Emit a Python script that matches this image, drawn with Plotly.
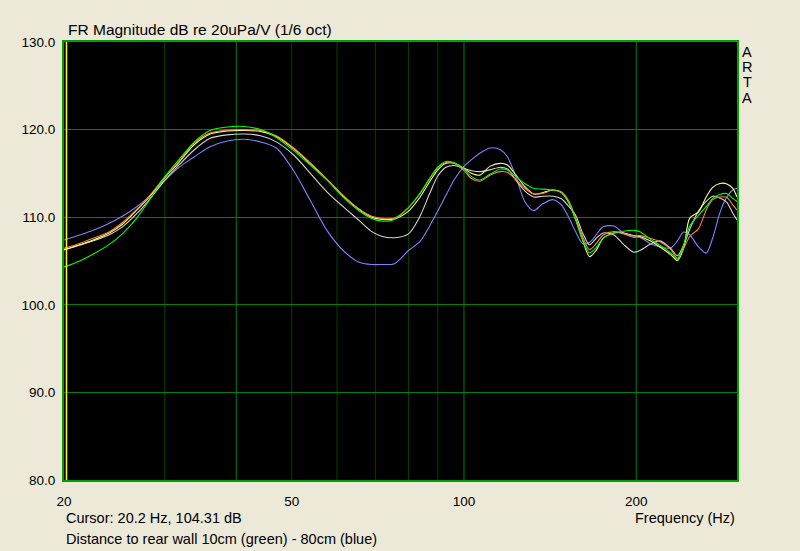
import math
import plotly.graph_objects as go

FREQ = [20, 21.3, 22.5, 24, 25.3, 26.8, 28.1, 30, 31.6, 33.8, 36, 38.6, 41.3, 44.1, 47, 50.4,
        53.9, 57.6, 61.5, 65.4, 69, 72, 75.6, 80, 83.7, 87.1, 90, 93, 96.2, 99.7, 103.2, 106.6,
        111, 115.8, 119.1, 123.3, 127.7, 132.4, 137.1, 143.2, 148, 152.6, 156.8, 161.2, 165.7,
        170.3, 175.1, 182.8, 190, 198, 203, 211.5, 220, 230, 236, 242, 248, 257, 265, 272, 280,
        288, 295, 300]

GREEN_10CM = [104.3, 105.0, 105.8, 106.9, 108.1, 109.9, 111.8, 114.6, 116.4, 118.6, 119.9, 120.3,
              120.35, 120.0, 119.1, 117.6, 115.95, 114.25, 112.3, 110.8, 109.86, 109.55, 109.75,
              111.1, 112.7, 114.4, 115.7, 116.35, 116.2, 115.6, 114.6, 114.25, 114.9, 115.5, 115.4,
              114.6, 113.85, 113.3, 113.2, 113.1, 112.8, 111.6, 109.7, 107.4, 105.95, 106.55,
              107.6, 108.2, 108.4, 108.5, 108.35, 107.5, 106.8, 105.9, 105.2, 106.8, 109.0, 110.2,
              111.2, 112.15, 112.6, 112.7, 112.15, 111.8]

ORANGE = [106.45, 107.0, 107.6, 108.35, 109.4, 110.9, 112.3, 114.6, 116.2, 118.5, 119.6, 119.95,
          120.0, 119.9, 119.3, 117.9, 116.2, 114.35, 112.5, 111.0, 110.1, 109.86, 109.9, 111.1,
          112.65, 114.4, 115.7, 116.25, 116.15, 115.4, 114.4, 114.1, 114.8, 115.2, 115.1, 114.3,
          113.3, 112.65, 112.7, 113.1, 112.9, 111.8, 109.9, 107.8, 106.3, 107.0, 107.97, 108.35,
          108.1, 107.85, 107.9, 107.6, 107.2, 106.3, 105.3, 106.45, 107.8, 108.7, 110.8, 112.0,
          112.3, 112.25, 111.4, 110.8]

YELLOW = [106.3, 106.85, 107.4, 108.2, 109.2, 110.8, 112.2, 114.5, 116.1, 118.3, 119.5, 119.85,
          119.9, 119.8, 119.2, 117.8, 116.1, 114.3, 112.4, 110.9, 110.0, 109.75, 109.8, 110.7,
          112.25, 114.05, 115.4, 116.15, 116.15, 115.6, 115.0, 114.8, 115.8, 116.15, 115.96,
          114.8, 113.5, 112.65, 112.8, 113.1, 112.8, 111.6, 109.7, 107.4, 105.5, 106.25, 107.6,
          108.2, 108.2, 107.9, 107.8, 107.3, 106.6, 105.7, 105.05, 106.45, 109.9, 110.6, 112.3,
          113.4, 113.85, 113.8, 113.3, 112.3]

WHITE = [106.25, 106.8, 107.3, 108.0, 108.9, 110.4, 111.9, 114.2, 115.8, 117.7, 119.0, 119.4,
         119.5, 119.3, 118.6, 117.1, 115.0, 112.9, 111.2, 109.7, 108.35, 107.8, 107.66, 108.1,
         110.05, 112.7, 114.7, 115.7, 115.9, 115.6, 115.3, 115.2, 115.4, 115.7, 115.5, 114.2,
         113.0, 112.3, 112.4, 112.4, 112.1, 111.2, 110.2, 108.2, 106.85, 107.6, 108.2, 107.97,
         106.9, 106.0, 106.2, 106.9, 107.3, 106.4, 105.6, 106.8, 108.6, 110.7, 111.8, 112.4,
         112.2, 111.7, 110.45, 109.7]

BLUE_80CM = [107.4, 107.97, 108.5, 109.3, 110.1, 111.2, 112.3, 114.2, 115.58, 116.9, 118.05, 118.7,
             118.9, 118.6, 117.9, 115.3, 111.9, 108.5, 106.2, 104.9, 104.6, 104.6, 104.7, 106.2,
             107.2, 109.0, 110.7, 112.5, 114.3, 115.7, 116.6, 117.3, 117.9, 117.7, 116.9, 114.6,
             111.8, 110.75, 111.5, 112.0, 111.4, 109.9, 108.3, 107.0, 107.1, 108.0, 108.9, 109.0,
             108.2, 107.7, 107.7, 107.0, 106.6, 106.5, 107.3, 108.3, 108.0, 106.6, 105.9, 107.6,
             110.5, 112.3, 113.1, 113.3]

SERIES = [("80cm", BLUE_80CM, "#8080FF"),
          ("white", WHITE, "#D4D4D4"),
          ("yellow", YELLOW, "#FFFF80"),
          ("orange", ORANGE, "#FF8040"),
          ("10cm", GREEN_10CM, "#00FF00")]

Y_TICKS = [80, 90, 100, 110, 120, 130]
X_TICKS = [20, 50, 100, 200]
GRID_MAJOR_HZ = [40, 100, 200]
GRID_MINOR_HZ = [30, 50, 60, 70, 80, 90]
CURSOR_HZ = 20.2
CURSOR_DB = 104.31
F_MIN, F_MAX = 20, 300

BG = "#ECE9D8"
FONT = "Liberation Sans, Arial, sans-serif"

fig = go.Figure()
for name, vals, col in SERIES:
    fig.add_trace(go.Scatter(x=FREQ, y=vals, mode="lines", name=name,
                             line=dict(color=col, width=1.1, shape="spline", smoothing=0.8),
                             hoverinfo="skip"))

shapes = []
for f in GRID_MINOR_HZ:
    shapes.append(dict(type="line", xref="x", yref="paper", x0=f, x1=f, y0=0, y1=1,
                       line=dict(color="#004000", width=1), layer="below"))
for f in GRID_MAJOR_HZ:
    shapes.append(dict(type="line", xref="x", yref="paper", x0=f, x1=f, y0=0, y1=1,
                       line=dict(color="#008000", width=1), layer="below"))
shapes.append(dict(type="line", xref="x", yref="paper", x0=CURSOR_HZ, x1=CURSOR_HZ, y0=0, y1=1,
                   line=dict(color="#FFFF00", width=1.5), layer="above"))

fig.update_layout(
    width=800, height=551,
    margin=dict(l=64, r=63, t=42, b=71),
    paper_bgcolor=BG, plot_bgcolor="#000000",
    showlegend=False,
    font=dict(family=FONT, size=14, color="#000000"),
    shapes=shapes,
    xaxis=dict(type="log", range=[math.log10(F_MIN), math.log10(F_MAX)],
               tickvals=X_TICKS, ticktext=[str(v) for v in X_TICKS],
               showgrid=False, zeroline=False, ticks="", ticklabelstandoff=8,
               tickfont=dict(size=13.5, family=FONT, color="#000000"),
               showline=True, mirror=True, linecolor="#00A000", linewidth=2),
    yaxis=dict(range=[80, 130], tickvals=Y_TICKS, tickformat=".1f",
               showgrid=True, gridcolor="#008000", gridwidth=1, zeroline=False, ticks="",
               ticklabelstandoff=4,
               tickfont=dict(size=13.5, family=FONT, color="#000000"),
               showline=True, mirror=True, linecolor="#00A000", linewidth=2),
)

ph = 551 - 42 - 71


def py(ypix):
    return 1 - (ypix - 42) / ph


anns = [
    dict(text="FR Magnitude dB re 20uPa/V (1/6 oct)", x=0, xshift=2, y=py(30), xanchor="left",
         yanchor="middle", font=dict(size=15.5)),
    dict(text=f"Cursor: {CURSOR_HZ} Hz, {CURSOR_DB} dB", x=0, y=py(518), xanchor="left",
         yanchor="middle", font=dict(size=14.5)),
    dict(text="Frequency (Hz)", x=1, y=py(518), xanchor="right", yanchor="middle",
         font=dict(size=14.5)),
    dict(text="Distance to rear wall 10cm (green) - 80cm (blue)", x=0, y=py(539), xanchor="left",
         yanchor="middle", font=dict(size=14.5)),
]
for ch, yp in zip("ARTA", [52, 67, 82, 98]):
    anns.append(dict(text=ch, x=(747 - 64) / 673, y=py(yp), xanchor="center", yanchor="middle",
                     font=dict(size=14.5)))
for a in anns:
    a.update(xref="paper", yref="paper", showarrow=False)
fig.update_layout(annotations=anns)

fig.write_html("out.html", config={"displayModeBar": False},
               post_script="document.body.style.margin='0';document.body.style.background='"
                           + BG + "';document.body.style.overflow='hidden';")
